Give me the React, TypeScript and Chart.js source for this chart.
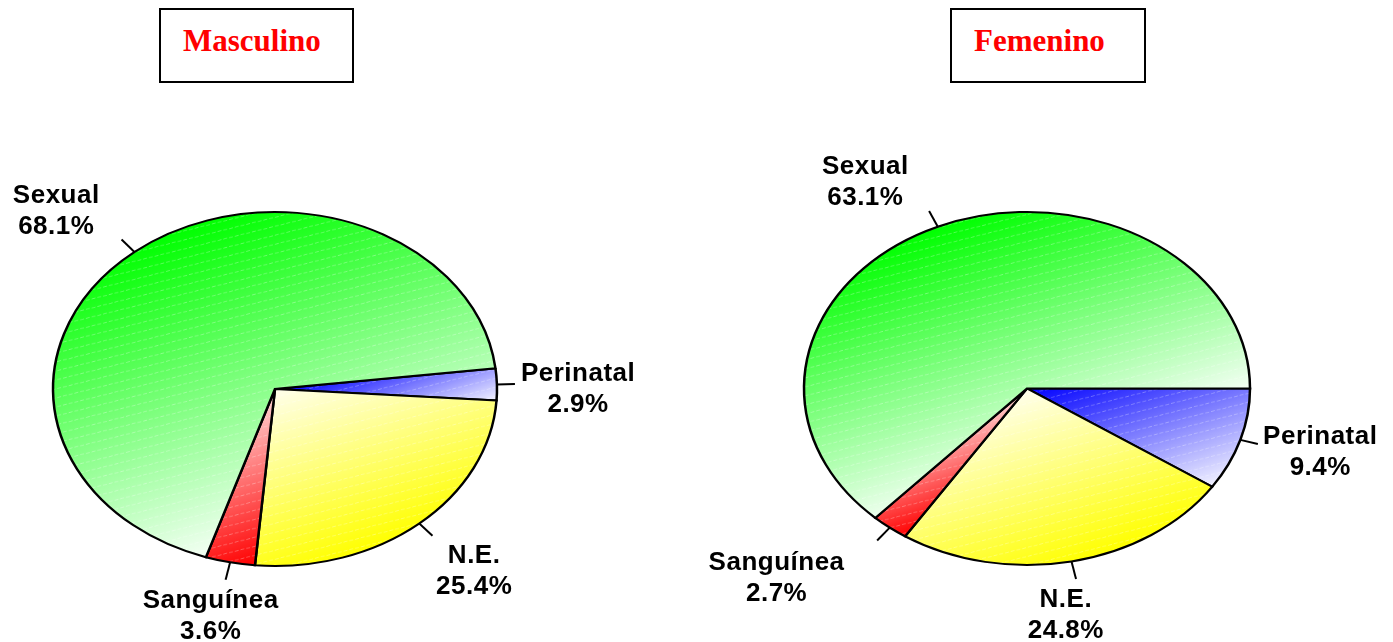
import React, { useEffect, useRef } from "react";
import { Chart, registerables } from "chart.js";

Chart.register(...registerables);

// ---------- data ----------
const categories = ["Perinatal", "N.E.", "Sanguínea", "Sexual"];
const masculinoValues = [2.9, 25.4, 3.6, 68.1];
const femeninoValues = [9.4, 24.8, 2.7, 63.1];
const panelTitles = ["Masculino", "Femenino"];

// ---------- style ----------
const gradientStops = [
  ["#0000ff", "#f2f2ff"], // Perinatal: saturated -> light
  ["#ffffec", "#ffff00"], // N.E.: light -> saturated
  ["#ffd8d8", "#ff0000"], // Sanguínea
  ["#00ff00", "#f4fff4"], // Sexual
];
const GRADIENT_ANGLE = 70; // degrees, visual direction of the gradient
const STRIPE_ANGLE = -14; // degrees, faint texture lines
const STRIPE_SPACING = 9;
const LABEL_FONT = "bold 26px 'Liberation Sans', Arial, Helvetica, sans-serif";
const LINE_GAP = 31;
const CAP_H = 18.5;
const LEADER_LEN = 18;

const panels = [
  {
    title: panelTitles[0],
    values: masculinoValues,
    canvasLeft: 0,
    width: 696,
    padding: { left: 10, right: 156, top: 146, bottom: 10 },
    radius: 222,
    k: 177 / 222,
    rotation: 83.3,
    boxLeft: 159,
    boxWidth: 195,
    nudges: [
      [0, 4],
      [13, 10],
      [0, 4],
      [-34, -6],
    ],
  },
  {
    title: panelTitles[1],
    values: femeninoValues,
    canvasLeft: 696,
    width: 697,
    padding: { left: 10, right: 45, top: 145, bottom: 10 },
    radius: 223,
    k: 176.5 / 223,
    rotation: 90,
    boxLeft: 950,
    boxWidth: 196,
    nudges: [
      [2, -3],
      [-19, 4],
      [-55, 12],
      [-44, -3],
    ],
  },
];

type Panel = (typeof panels)[number];

function sliceAngles(values: number[], rotation: number) {
  const total = values.reduce((a, b) => a + b, 0);
  let a = ((rotation - 90) * Math.PI) / 180;
  return values.map((v) => {
    const s = a;
    a += (v / total) * Math.PI * 2;
    return [s, a];
  });
}

function makeFill(chart: any, index: number, cfg: Panel) {
  const area = chart.chartArea;
  const [c0, c1] = gradientStops[index];
  if (!area) return c1;
  const cx = (area.left + area.right) / 2;
  const cy = (area.top + area.bottom) / 2;
  const [a0, a1] = sliceAngles(cfg.values, cfg.rotation)[index];
  const th = (GRADIENT_ANGLE * Math.PI) / 180;
  let gx = Math.cos(th);
  let gy = Math.sin(th) * cfg.k;
  const n = Math.hypot(gx, gy);
  gx /= n;
  gy /= n;
  const pts: number[][] = [[cx, cy]];
  const steps = 40;
  for (let i = 0; i <= steps; i++) {
    const a = a0 + ((a1 - a0) * i) / steps;
    pts.push([cx + cfg.radius * Math.cos(a), cy + cfg.radius * Math.sin(a)]);
  }
  let tmin = Infinity;
  let tmax = -Infinity;
  for (const [x, y] of pts) {
    const t = gx * x + gy * y;
    tmin = Math.min(tmin, t);
    tmax = Math.max(tmax, t);
  }
  const W = chart.width;
  const H = chart.height;
  const off = document.createElement("canvas");
  off.width = W;
  off.height = H;
  const o = off.getContext("2d");
  if (!o) return c1;
  const g = o.createLinearGradient(gx * tmin, gy * tmin, gx * tmax, gy * tmax);
  g.addColorStop(0, c0);
  g.addColorStop(1, c1);
  o.fillStyle = g;
  o.fillRect(0, 0, W, H);
  // faint texture stripes (defined visually, converted to circle space)
  const slope = Math.tan((STRIPE_ANGLE * Math.PI) / 180) / cfg.k;
  const step = STRIPE_SPACING / cfg.k;
  o.strokeStyle = "rgba(255,255,255,0.32)";
  o.lineWidth = 1;
  o.setLineDash([4, 2]);
  const extra = Math.abs(slope) * W;
  for (let y0 = -step; y0 < H + extra + step; y0 += step) {
    o.beginPath();
    o.moveTo(0, y0);
    o.lineTo(W, y0 + slope * W);
    o.stroke();
  }
  return chart.ctx.createPattern(off, "no-repeat") || g;
}

function makePlugin(cfg: Panel) {
  return {
    id: "ellipsePie",
    beforeDatasetsDraw(chart: any) {
      const a = chart.chartArea;
      const cx = (a.left + a.right) / 2;
      const cy = (a.top + a.bottom) / 2;
      const ctx = chart.ctx;
      ctx.save();
      ctx.translate(cx, cy);
      ctx.scale(1, cfg.k);
      ctx.translate(-cx, -cy);
    },
    afterDatasetsDraw(chart: any) {
      chart.ctx.restore();
    },
    afterDraw(chart: any) {
      const a = chart.chartArea;
      const cx = (a.left + a.right) / 2;
      const cy = (a.top + a.bottom) / 2;
      const ctx = chart.ctx;
      const angles = sliceAngles(cfg.values, cfg.rotation);
      ctx.save();
      ctx.font = LABEL_FONT;
      try {
        (ctx as any).letterSpacing = "0.5px";
      } catch (e) {}
      ctx.fillStyle = "#000";
      ctx.strokeStyle = "#000";
      ctx.lineWidth = 2;
      ctx.textAlign = "center";
      ctx.textBaseline = "alphabetic";
      categories.forEach((name, i) => {
        const [s, e] = angles[i];
        const m = (s + e) / 2;
        const c = Math.cos(m);
        const sn = Math.sin(m);
        const ex = cx + cfg.radius * c;
        const ey = cy + cfg.radius * cfg.k * sn;
        let dx = c;
        let dy = sn * cfg.k;
        const dn = Math.hypot(dx, dy);
        dx /= dn;
        dy /= dn;
        const lx = ex + dx * LEADER_LEN;
        const ly = ey + dy * LEADER_LEN;
        ctx.beginPath();
        ctx.moveTo(ex, ey);
        ctx.lineTo(lx, ly);
        ctx.stroke();
        const line2 = cfg.values[i].toFixed(1) + "%";
        const w = Math.max(ctx.measureText(name).width, ctx.measureText(line2).width);
        const hw = w / 2;
        const hh = (CAP_H + LINE_GAP) / 2;
        const gap = 6;
        const bx = lx + c * (hw + gap) + cfg.nudges[i][0];
        const by = ly + sn * (hh + gap) + cfg.nudges[i][1];
        const base1 = by - hh + CAP_H;
        ctx.fillText(name, bx, base1);
        ctx.fillText(line2, bx, base1 + LINE_GAP);
      });
      ctx.restore();
    },
  };
}

function PiePanel({ cfg }: { cfg: Panel }) {
  const ref = useRef<HTMLCanvasElement | null>(null);
  useEffect(() => {
    if (!ref.current) return;
    const chart = new Chart(ref.current, {
      type: "pie",
      data: {
        labels: categories,
        datasets: [
          {
            data: cfg.values,
            radius: cfg.radius,
            backgroundColor: (ctx: any) => makeFill(ctx.chart, ctx.dataIndex, cfg),
            borderColor: "#000000",
            borderWidth: 2.5,
            borderJoinStyle: "miter",
            hoverOffset: 0,
          } as any,
        ],
      },
      options: {
        animation: false,
        responsive: false,
        devicePixelRatio: 1,
        rotation: cfg.rotation,
        events: [],
        layout: { padding: cfg.padding },
        plugins: {
          legend: { display: false },
          tooltip: { enabled: false },
          title: { display: false },
        },
      },
      plugins: [makePlugin(cfg)],
    } as any);
    return () => chart.destroy();
  }, [cfg]);
  return (
    <canvas
      ref={ref}
      width={cfg.width}
      height={642}
      style={{ position: "absolute", left: cfg.canvasLeft, top: 0, width: cfg.width, height: 642 }}
    />
  );
}

function TitleBox({ cfg }: { cfg: Panel }) {
  return (
    <div
      style={{
        position: "absolute",
        left: cfg.boxLeft,
        top: 8,
        width: cfg.boxWidth,
        height: 75,
        border: "2px solid #000",
        boxSizing: "border-box",
        background: "#fff",
      }}
    >
      <span
        style={{
          position: "absolute",
          left: 22,
          top: 15,
          fontFamily: "'Liberation Serif', 'Times New Roman', serif",
          fontWeight: "bold",
          fontSize: 31,
          lineHeight: "31px",
          color: "#ff0000",
          whiteSpace: "nowrap",
        }}
      >
        {cfg.title}
      </span>
    </div>
  );
}

export default function App() {
  return (
    <div
      style={{
        position: "absolute",
        left: 0,
        top: 0,
        width: 1393,
        height: 642,
        background: "#ffffff",
        overflow: "hidden",
      }}
    >
      {panels.map((p) => (
        <PiePanel key={p.title} cfg={p} />
      ))}
      {panels.map((p) => (
        <TitleBox key={"t" + p.title} cfg={p} />
      ))}
    </div>
  );
}
